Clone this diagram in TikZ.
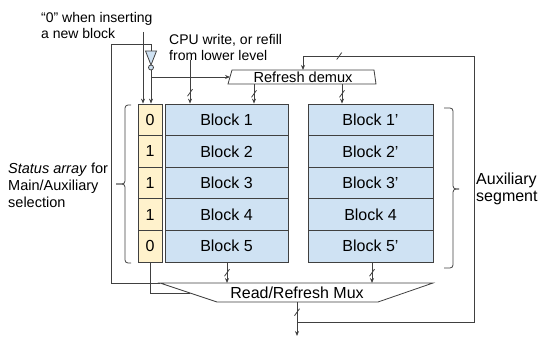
\documentclass[tikz,border=0pt]{standalone}
\usepackage{fontspec}
\setmainfont{Liberation Sans}
\usepackage{tikz}
\usetikzlibrary{arrows.meta,positioning,calc,decorations.markings}
\definecolor{linegray}{HTML}{404040}
\definecolor{blkfill}{HTML}{CFE2F3}
\definecolor{statfill}{HTML}{FFF2CC}
\tikzset{cell/.style={draw=linegray,line width=.8pt,minimum height=31.6pt,inner sep=0pt,font=\fontsize{16}{19}\selectfont},blk/.style={cell,fill=blkfill,minimum width=123pt},stat/.style={cell,fill=statfill,minimum width=24pt},arr/.style={-{Stealth[length=5pt,width=4pt]},draw=linegray,line width=.8pt},slash/.style={postaction={decorate,decoration={markings,mark=at position #1 with {\pgftransformresetnontranslations\draw[-,linegray,line width=.8pt] (-2.5pt,-3.5pt)--(2.5pt,3.5pt);}}}},slash/.default=.5}

\begin{document}
\begin{tikzpicture}[x=1pt,y=-1pt,ln/.style={draw=linegray,line width=.8pt},lbl/.style={inner sep=0pt,align=left,anchor=west},brk/.style={ln,rounded corners=3pt}]
\useasboundingbox (0,0) rectangle (540,337);
\node[lbl,font=\fontsize{14}{16}\selectfont] (zero) at (41,25) {“0” when inserting\\a new block};
\node[lbl,font=\fontsize{14}{16}\selectfont] (cpu) at (169,47) {CPU write, or refill\\from lower level};
\node[lbl,font=\fontsize{14.5}{17}\selectfont] (stnote) at (8,185) {\textit{Status array} for\\Main/Auxiliary\\selection};
\node[lbl,font=\fontsize{16}{16.5}\selectfont] (aux) at (476,189) {Auxiliary\\segment};
% status array and the two segments
\foreach \v [count=\i] in {0,1,1,1,0}
  \node[stat] (st\i) at (150,{104+31.6*\i-15.8}) {\v};
\foreach \i in {1,...,5}
  \node[blk] (bk\i) at (226.5,{104+31.6*\i-15.8}) {Block \i};
\foreach \t [count=\i] in {Block 1’,Block 2’,Block 3’,Block 4,Block 5’}
  \node[blk,minimum width=125pt] (bx\i) at (370.5,{104+31.6*\i-15.8}) {\t};
% inverter
\draw[ln,fill=blkfill] (145.5,51) -- (156.5,51) -- (151,65) -- cycle;
\node[circle,ln,fill=blkfill,minimum size=5pt,inner sep=0pt] (bub) at (151,67.5) {};
\coordinate (inv) at (151,51);
% demux and mux
\draw[ln,fill=white] (232,70) -- (374,70) -- (376,84) -- (228,84) -- cycle;
\node[font=\fontsize{14.6}{16}\selectfont,inner sep=0pt] (dmx) at (303,77.5) {Refresh demux};
\draw[ln,fill=white] (160,283) coordinate (muxtl) -- (433,283) -- (378,302) -- (217,302) -- cycle;
\node[font=\fontsize{16}{18}\selectfont,inner sep=0pt] (mux) at (297,292.5) {Read/Refresh Mux};
\coordinate (dmxw) at (230,77);
\coordinate (dmxn) at (303,70);
\coordinate (muxsel) at (190,293);
\coordinate (out) at (297,302);
\coordinate (res) at (297,336);
\coordinate (fb) at (297,322);
% connectors
\draw[ln] (muxtl) -- (111,283) -- (111,44) -| (inv);
\draw[arr] (bub) -- (bub |- st1.north);
\coordinate (zin) at (143,32);
\draw[arr] (zin) -- (zin |- st1.north);
\coordinate (inb) at (151,77);
\draw[arr] (inb) -- (dmxw);
\coordinate (cpuin) at (190,60);
\draw[arr,slash=.75] (cpuin) -- (cpuin |- bk1.north);
\coordinate (d1) at (254,84);
\coordinate (d2) at (342,84);
\draw[arr,slash] (d1) -- (d1 |- bk1.north);
\draw[arr,slash] (d2) -- (d2 |- bx1.north);
\coordinate (m1) at (227,283);
\coordinate (m2) at (372,283);
\draw[arr,slash] (m1 |- bk5.south) -- (m1);
\draw[arr,slash] (m2 |- bx5.south) -- (m2);
\draw[ln] (st5.south) |- (muxsel);
\draw[arr,slash=.3] (out) -- (res);
\draw[arr,slash=.92] (fb) -| (474,56) -| (dmxn);
% brackets
\draw[brk] (131,105) -- (125,105) -- (125,184) -- (116,184);
\draw[brk] (116,184) -- (125,184) -- (125,263) -- (131,263);
\draw[brk] (444,108) -- (453,108) -- (453,189) -- (459,189);
\draw[brk] (459,189) -- (453,189) -- (453,268) -- (444,268);
\end{tikzpicture}
\end{document}
